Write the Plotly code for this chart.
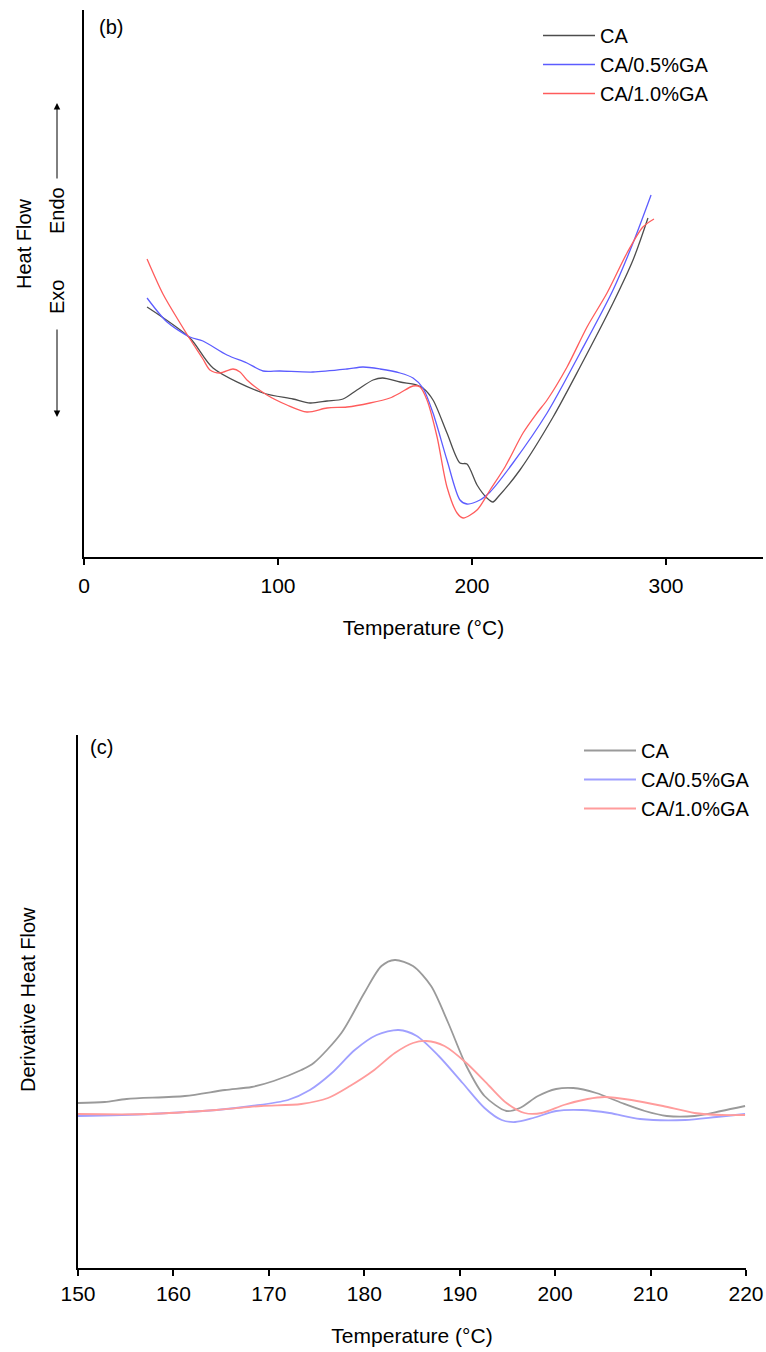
import plotly.graph_objects as go

# ---------------- Panel (b): DSC heat flow ----------------
b_ca_T = [32.5, 54.6, 66.5, 92.3, 107.7, 116.5, 125.3, 133.5, 140.7, 149, 154, 162.9, 171.6, 174.7,
          179.9, 187.1, 193.8, 197.4, 202.6, 207.7, 210.8, 213.4, 224.7, 241.8, 255.7, 272.7, 283, 290.7]
b_ca_y = [25.0, 21.9, 18.9, 16.4, 15.8, 15.4, 15.6, 15.8, 16.7, 17.7, 17.9, 17.5, 17.2, 16.9,
          15.7, 12.4, 9.4, 9.3, 7.2, 5.9, 5.5, 6.0, 8.7, 14.0, 19.0, 25.4, 29.7, 33.9]

b_05_T = [32.5, 42.8, 54.6, 61.3, 73.7, 84, 92.3, 101, 118, 135.6, 143.8, 152.6, 162.9, 169.6,
          174.7, 179.9, 187.1, 193.8, 197.4, 204.1, 209.3, 221.1, 238.7, 255.7, 272.7, 283, 292.3]
b_05_y = [25.9, 23.5, 22.0, 21.6, 20.2, 19.4, 18.6, 18.6, 18.5, 18.8, 19.0, 18.8, 18.4, 17.9,
          16.9, 14.4, 9.7, 5.7, 5.3, 5.7, 6.5, 9.4, 14.4, 20.4, 26.7, 31.4, 36.2]

b_10_T = [32.5, 40.7, 49.5, 54.6, 61.3, 64.9, 70.1, 76.8, 80.4, 84, 94.3, 104.6, 114.9, 125.3,
          135.6, 147.4, 157.7, 162.9, 169.6, 173.2, 176.8, 182, 187.1, 192.3, 195.4, 202.6, 209.3,
          217, 226.3, 233.5, 238.7, 249, 259.3, 269.6, 279.9, 288.1, 293.8]
b_10_y = [29.8, 26.3, 23.4, 21.8, 19.8, 18.7, 18.4, 18.8, 18.5, 17.7, 16.2, 15.2, 14.5, 14.9,
          15.0, 15.4, 15.9, 16.4, 17.1, 17.0, 15.7, 12.0, 7.0, 4.4, 3.9, 4.7, 6.7,
          9.0, 12.4, 14.4, 15.7, 19.0, 23.0, 26.4, 30.4, 33.0, 33.8]

b_ticks = [0, 100, 200, 300]

# ---------------- Panel (c): derivative heat flow ----------------
c_ca_T = [150, 152.8, 155.1, 161.2, 165.4, 168.2, 170.5, 173.4, 174.7, 177.6, 180, 181.8, 183.2,
          185.1, 187, 188.8, 190.7, 192.6, 194.9, 196.3, 198.2, 200.1, 201.9, 204.3, 207, 209.4,
          211.7, 214.6, 217.4, 219.9]
c_ca_y = [16.5, 16.6, 16.9, 17.2, 17.8, 18.1, 18.7, 19.8, 20.5, 23.5, 27.5, 30.2, 30.8,
          30.2, 28.2, 24.5, 20.2, 17.2, 15.7, 16.0, 17.2, 17.9, 18.0, 17.5, 16.5, 15.7,
          15.2, 15.2, 15.7, 16.2]

c_05_T = [150, 157.4, 164.5, 168.2, 172, 174.3, 176.6, 179, 181.3, 183.6, 185.5, 187.8, 190.3,
          192.6, 194.4, 195.8, 197.7, 200.1, 202.8, 205.7, 208.9, 213.6, 216.9, 219.9]
c_05_y = [15.2, 15.4, 15.8, 16.2, 16.8, 17.8, 19.5, 21.8, 23.3, 23.8, 23.2, 21.2, 18.5,
          16.0, 14.8, 14.6, 15.0, 15.7, 15.8, 15.5, 14.9, 14.8, 15.1, 15.4]

c_10_T = [150, 157.4, 164.5, 169.2, 173.4, 176.2, 178.5, 180.9, 183.2, 185.1, 186.5, 188.4, 190.7,
          193.1, 194.9, 196.8, 198.6, 200.9, 203.4, 205.2, 208, 211.3, 214.6, 217.4, 219.9]
c_10_y = [15.4, 15.4, 15.8, 16.2, 16.4, 17.0, 18.2, 19.7, 21.5, 22.5, 22.7, 22.2, 20.5,
          18.2, 16.5, 15.5, 15.5, 16.3, 16.9, 17.1, 16.8, 16.2, 15.5, 15.3, 15.3]

c_ticks = [150, 160, 170, 180, 190, 200, 210, 220]

names = ["CA", "CA/0.5%GA", "CA/1.0%GA"]
colors_b = ["#4d4d4d", "#5c5cff", "#ff5c5c"]
colors_c = ["#9a9a9a", "#a0a0ff", "#ff9c9c"]

W, H = 766, 1352
FONT = "Arial, Liberation Sans, sans-serif"


def px(x):
    return x / W


def py(y):
    return 1 - y / H


fig = go.Figure()

for T, y, n, c in zip([b_ca_T, b_05_T, b_10_T], [b_ca_y, b_05_y, b_10_y], names, colors_b):
    fig.add_trace(go.Scatter(x=T, y=y, name=n, mode="lines",
                             line=dict(color=c, width=1.3, shape="spline", smoothing=0.8),
                             xaxis="x", yaxis="y", legend="legend"))

for T, y, n, c in zip([c_ca_T, c_05_T, c_10_T], [c_ca_y, c_05_y, c_10_y], names, colors_c):
    fig.add_trace(go.Scatter(x=T, y=y, name=n, mode="lines",
                             line=dict(color=c, width=1.8, shape="spline", smoothing=0.8),
                             xaxis="x2", yaxis="y2", legend="legend2"))

axis_common = dict(showline=True, linecolor="black", linewidth=1.8, showgrid=False,
                   zeroline=False, mirror=False, automargin=False)

fig.update_layout(
    width=W, height=H, autosize=False,
    margin=dict(l=0, r=0, t=0, b=0, pad=0, autoexpand=False),
    paper_bgcolor="white", plot_bgcolor="white",
    font=dict(family=FONT, size=20, color="black"),
    xaxis=dict(domain=[px(84), px(763)], range=[0, 350], tickvals=b_ticks,
               ticks="outside", ticklen=6, tickwidth=1.5, tickcolor="black",
               tickfont=dict(size=21), anchor="y", ticklabelstandoff=3,
               title=dict(text="Temperature (°C)", font=dict(size=21), standoff=24),
               **axis_common),
    yaxis=dict(domain=[py(557), py(10)], range=[0, 54.7], showticklabels=False,
               ticks="", anchor="x", **axis_common),
    xaxis2=dict(domain=[px(78), px(746)], range=[150, 220], tickvals=c_ticks,
                ticks="outside", ticklen=6, tickwidth=1.5, tickcolor="black",
                tickfont=dict(size=21), anchor="y2",
                title=dict(text="Temperature (°C)", font=dict(size=21), standoff=24),
                **axis_common),
    yaxis2=dict(domain=[py(1268), py(735)], range=[0, 53.3], showticklabels=False,
                ticks="", anchor="x2", **axis_common),
    legend=dict(x=px(538), y=py(16), xanchor="left", yanchor="top", itemwidth=52,
                bgcolor="rgba(0,0,0,0)", font=dict(size=20), tracegroupgap=0),
    legend2=dict(x=px(579), y=py(731), xanchor="left", yanchor="top", itemwidth=52,
                 bgcolor="rgba(0,0,0,0)", font=dict(size=20), tracegroupgap=0),
    showlegend=True,
)

annots = [
    dict(text="(b)", x=px(111), y=py(27), font=dict(size=20)),
    dict(text="(c)", x=px(101), y=py(747), font=dict(size=20)),
    dict(text="Heat Flow", x=px(24), y=py(243), textangle=-90, font=dict(size=20)),
    dict(text="Endo", x=px(57), y=py(211), textangle=-90, font=dict(size=20)),
    dict(text="Exo", x=px(57), y=py(297), textangle=-90, font=dict(size=20)),
    dict(text="Derivative Heat Flow", x=px(28), y=py(1000), textangle=-90, font=dict(size=20)),
]
for a in annots:
    fig.add_annotation(xref="paper", yref="paper", showarrow=False,
                       xanchor="center", yanchor="middle", **a)

# Endo / Exo arrows
fig.add_annotation(xref="paper", yref="paper", x=px(57), y=py(103), ax=0, ay=77,
                   axref="pixel", ayref="pixel", text="", showarrow=True,
                   arrowhead=2, arrowsize=1.3, arrowwidth=1, arrowcolor="black")
fig.add_annotation(xref="paper", yref="paper", x=px(57), y=py(417), ax=0, ay=-89,
                   axref="pixel", ayref="pixel", text="", showarrow=True,
                   arrowhead=2, arrowsize=1.3, arrowwidth=1, arrowcolor="black")

fig.write_html("out.html", config={"displayModeBar": False},
               post_script="document.body.style.margin='0px';document.body.style.overflow='hidden';")
